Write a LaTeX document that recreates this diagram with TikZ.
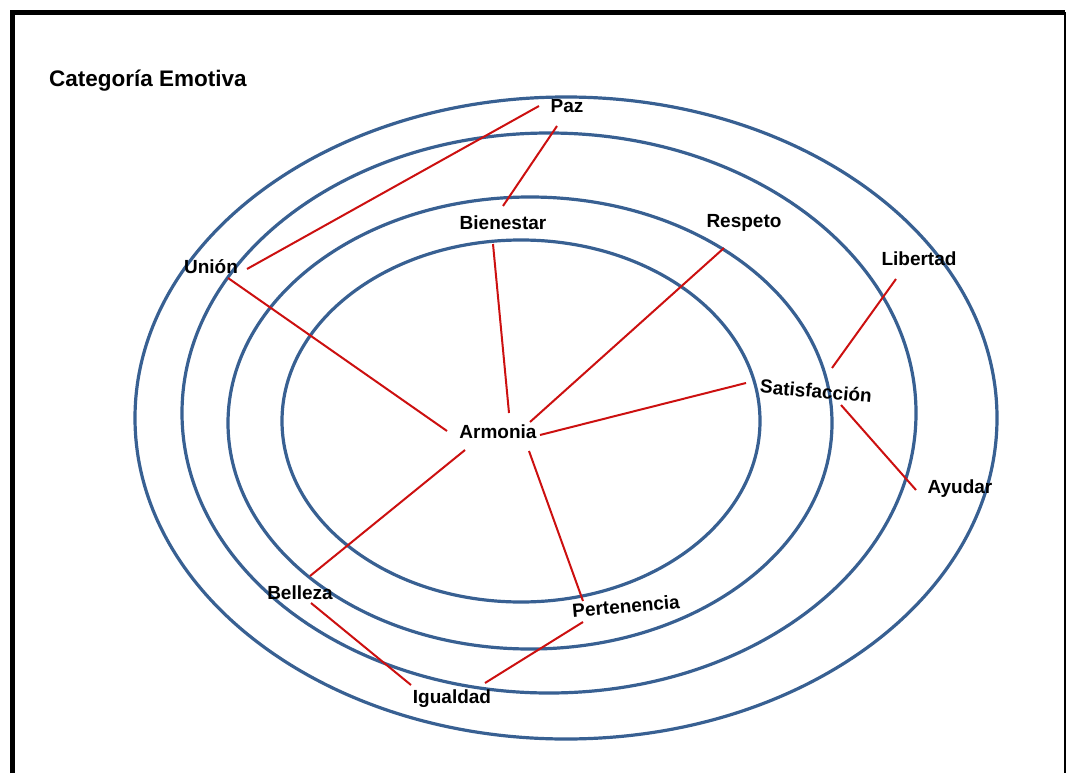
\documentclass[tikz,border=0pt]{standalone}
\usepackage{fontspec}
\setmainfont{Liberation Sans}
\usetikzlibrary{calc}
\definecolor{ringblue}{RGB}{56,96,146}
\definecolor{linkred}{RGB}{204,16,16}
\tikzset{
  ring/.style={draw=ringblue, line width=3.2pt},
  link/.style={draw=linkred, line width=2pt},
  lbl/.style={inner sep=1pt, font=\fontsize{19}{22}\selectfont\bfseries, text=black},
  ttl/.style={inner sep=1pt, font=\fontsize{22.5}{26}\selectfont\bfseries, text=black},
}
\begin{document}
\begin{tikzpicture}[x=1pt,y=-1pt]
\useasboundingbox (0,0) rectangle (1067,773);
% frame
\draw[line width=5pt] (12,773) -- (12,12.5) -- (1065,12.5);
\draw[line width=1.5pt] (1065,12.5) -- (1065,773);
% rings
\draw[ring] (566,418) ellipse [x radius=431, y radius=321];
\draw[ring] (549,413) ellipse [x radius=367, y radius=280];
\draw[ring] (530,423) ellipse [x radius=302, y radius=226];
\draw[ring] (521,421) ellipse [x radius=239, y radius=181];
% labels
\node[ttl] (title) at (148,81) {Categoría Emotiva};
\node[lbl] (paz) at (567,106) {Paz};
\node[lbl] (bien) at (503,223) {Bienestar};
\node[lbl] (resp) at (744,223) {Respeto};
\node[lbl] (lib) at (919,259) {Libertad};
\node[lbl] (union) at (211,267) {Unión};
\node[lbl, rotate=-5] (sat) at (816,391) {Satisfacción};
\node[lbl] (arm) at (498,432) {Armonia};
\node[lbl] (ayu) at (960,489) {Ayudar};
\node[lbl] (bel) at (300,593) {Belleza};
\node[lbl, rotate=5] (pert) at (626,606) {Pertenencia};
\node[lbl] (igu) at (452,699) {Igualdad};
% connectors
\draw[link] ($(paz)+(-28,0)$) -- ($(union)+(36,2)$);
\draw[link] ($(paz)+(-10,20)$) -- ($(bien)+(0,-17)$);
\draw[link] ($(union)+(17,11)$) -- ($(arm)+(-51,-1)$);
\draw[link] ($(bien)+(-10,21)$) -- ($(arm)+(11,-19)$);
\draw[link] ($(resp)+(-20,25)$) -- ($(arm)+(32,-10)$);
\draw[link] ($(sat)+(-70,-8)$) -- ($(arm)+(42,3)$);
\draw[link] ($(arm)+(-33,18)$) -- ($(bel)+(10,-17)$);
\draw[link] ($(arm)+(31,19)$) -- ($(pert)+(-43,-5)$);
\draw[link] ($(lib)+(-23,20)$) -- ($(sat)+(16,-23)$);
\draw[link] ($(sat)+(25,14)$) -- ($(ayu)+(-44,1)$);
\draw[link] ($(bel)+(11,10)$) -- ($(igu)+(-41,-14)$);
\draw[link] ($(pert)+(-43,16)$) -- ($(igu)+(33,-16)$);
\end{tikzpicture}
\end{document}
